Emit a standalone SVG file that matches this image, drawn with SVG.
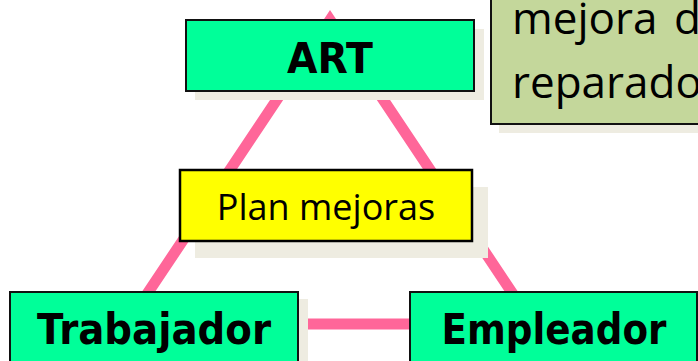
<svg xmlns="http://www.w3.org/2000/svg" width="698" height="361" viewBox="0 0 698 361">
<style>
.shadow{fill:#EEECE1}
.green{fill:#00FF99;stroke:#111;stroke-width:2}
.plan{fill:#FFFF00;stroke:#000;stroke-width:2.5}
.note{fill:#C4D79B;stroke:#111;stroke-width:2}
.bold{font-family:"DejaVu Sans",Verdana,sans-serif;font-weight:bold;font-size:42px;fill:#000}
.reg{font-family:"Open Sans","Noto Sans",sans-serif;fill:#000}
.conn{fill:none;stroke:#FF6699;stroke-width:11;stroke-linejoin:miter;stroke-miterlimit:10}
</style>
<rect width="698" height="361" fill="#fff"/>
<g id="connectors">
<path class="conn" d="M330,20 L127,324 L533,324 Z"/>
</g>
<g id="node-note">
<rect class="shadow" x="499" y="-10" width="220" height="143"/>
<rect class="note" x="491" y="-20" width="220" height="144"/>
<text class="reg" x="512" y="34" font-size="44" word-spacing="5">mejora d</text>
<text class="reg" x="512" y="98" font-size="44">reparado</text>
</g>
<g id="node-art">
<rect class="shadow" x="195" y="29" width="289" height="71"/>
<rect class="green" x="186" y="20" width="288" height="71"/>
<text class="bold" x="330" y="73" text-anchor="middle" textLength="86" lengthAdjust="spacingAndGlyphs">ART</text>
</g>
<g id="node-plan">
<rect class="shadow" x="195" y="187" width="293" height="71"/>
<rect class="plan" x="180" y="170" width="292" height="71"/>
<text class="reg" x="326" y="220" font-size="36" text-anchor="middle">Plan mejoras</text>
</g>
<g id="node-trabajador">
<rect class="shadow" x="19" y="299" width="289" height="80"/>
<rect class="green" x="10" y="292" width="288" height="90"/>
<text class="bold" x="154" y="344" text-anchor="middle" textLength="234" lengthAdjust="spacingAndGlyphs">Trabajador</text>
</g>
<g id="node-empleador">
<rect class="shadow" x="419" y="299" width="289" height="80"/>
<rect class="green" x="410" y="292" width="287" height="90"/>
<text class="bold" x="554" y="344" text-anchor="middle" textLength="225" lengthAdjust="spacingAndGlyphs">Empleador</text>
</g>
</svg>
